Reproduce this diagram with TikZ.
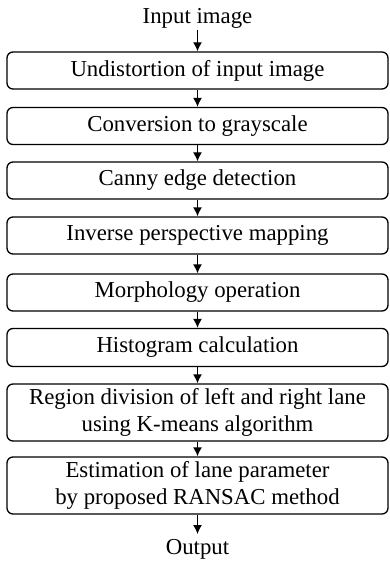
\documentclass[tikz,border=0pt]{standalone}
\usepackage{fontspec}
\setmainfont{Liberation Serif}
\usetikzlibrary{arrows.meta}
\begin{document}
\begin{tikzpicture}[x=1pt,y=-1pt,
  box/.style={draw, line width=1.3pt, rounded corners=6pt, minimum width=381pt, inner sep=0pt, align=center, font=\fontsize{22.8}{27.5}\selectfont},
  plain/.style={inner sep=0pt, font=\fontsize{22.8}{27.5}\selectfont},
  arr/.style={line width=1.3pt, -{Latex[length=9pt,width=9pt]}}]
\useasboundingbox (0,0) rectangle (389,561);
\node[plain] (in) at (197.5,18) {Input image};
\node[box, minimum height=37pt] (b1) at (197.5,70.5) {Undistortion of input image};
\node[box, minimum height=37pt] (b2) at (197.5,126) {Conversion to grayscale};
\node[box, minimum height=37pt] (b3) at (197.5,180.5) {Canny edge detection};
\node[box, minimum height=37pt] (b4) at (197.5,235.5) {Inverse perspective mapping};
\node[box, minimum height=37pt] (b5) at (197.5,292.5) {Morphology operation};
\node[box, minimum height=38pt] (b6) at (197.5,347.5) {Histogram calculation};
\node[box, minimum height=57pt] (b7) at (197.5,412.5) {Region division of left and right lane\\using K-means algorithm};
\node[box, minimum height=57pt] (b8) at (197.5,485.5) {Estimation of lane parameter\\by proposed RANSAC method};
\node[plain] (out) at (197.5,549) {Output};
\coordinate (outtop) at (197.5,534);
\draw[arr] (in.south |- 0,30) -- (b1);
\draw[arr] (b1) -- (b2);
\draw[arr] (b2) -- (b3);
\draw[arr] (b3) -- (b4);
\draw[arr] (b4) -- (b5);
\draw[arr] (b5) -- (b6);
\draw[arr] (b6) -- (b7);
\draw[arr] (b7) -- (b8);
\draw[arr] (b8) -- (outtop);
\end{tikzpicture}
\end{document}
